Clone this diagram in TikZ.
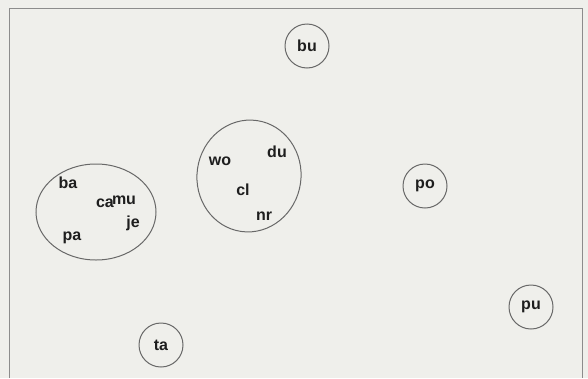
\documentclass[tikz,border=0pt]{standalone}
\usepackage{fontspec}
\setmainfont{Liberation Sans}
\usepackage{tikz}
\usetikzlibrary{shapes.geometric}

\begin{document}
\begin{tikzpicture}[x=1pt, y=-1pt, font=\fontsize{16}{18}\selectfont\bfseries, line width=1pt,
  lab/.style={inner sep=0pt, text=txt},
  solo/.style={draw=ring, circle, minimum size=44pt, inner sep=0pt, text=txt},
  clus/.style={draw=ring, ellipse, inner sep=0pt},
]
\definecolor{bg}{HTML}{EFEFEB}
\definecolor{ring}{HTML}{686868}
\definecolor{frm}{HTML}{8C8C8C}
\definecolor{txt}{HTML}{1E1E1E}

% ---------------- canvas and frame ----------------
\fill[bg] (0,0) rectangle (588,378);
\useasboundingbox (0,0) rectangle (588,378);
\coordinate (fbl) at (9.5,378);
\coordinate (ftl) at (9.5,8.5);
\coordinate (ftr) at (582.5,8.5);
\coordinate (fbr) at (582.5,378);
\draw[frm, line width=1.3pt] (fbl) -- (ftl) -- (ftr) -- (fbr);

% ---------------- single points ----------------
\node[solo] (bu) at (307,46)  {bu};
\node[solo] (po) at (425,186) {po};
\node[solo] (pu) at (531,307) {pu};
\node[solo] (ta) at (161,345) {ta};

% ---------------- left cluster ----------------
\node[clus, minimum width=120pt, minimum height=96pt] (cl1) at (96,212) {};
\node[lab] (ba) at (68,183)  {ba};
\node[lab] (ca) at (105,203) {ca};
\node[lab] (mu) at (124,200) {mu};
\node[lab] (je) at (133,223) {je};
\node[lab] (pa) at (72,238)  {pa};

% ---------------- middle cluster ----------------
\node[clus, minimum width=104pt, minimum height=112pt, rotate=-8] (cl2) at (249,176) {};
\node[lab] (wo) at (220,161) {wo};
\node[lab] (du) at (277,152) {du};
\node[lab] (cl) at (243,190) {cl};
\node[lab] (nr) at (264,216) {nr};
\end{tikzpicture}
\end{document}
